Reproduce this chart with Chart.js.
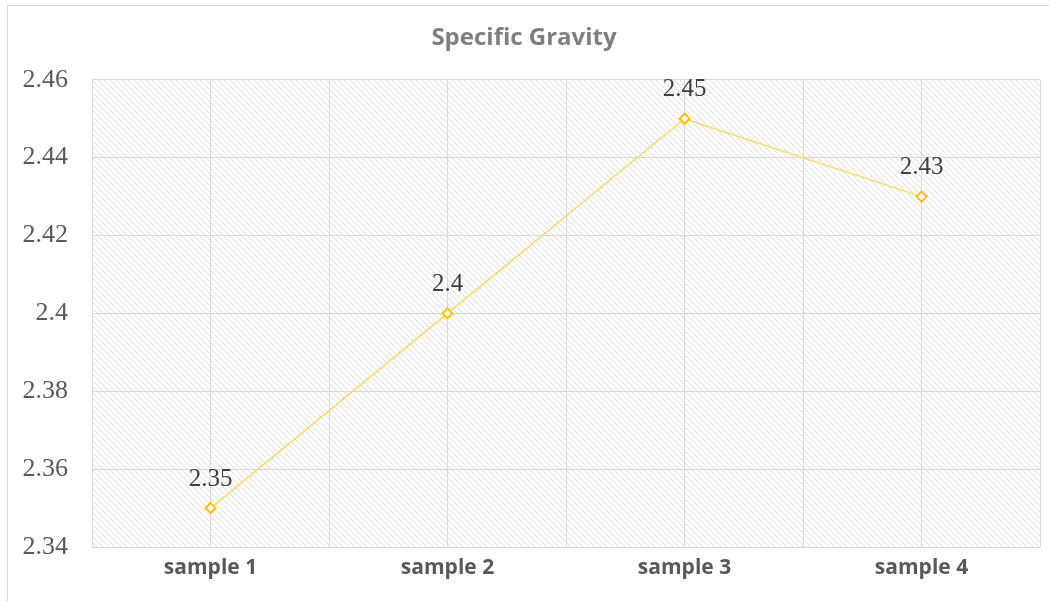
<!DOCTYPE html>
<html>
<head>
<meta charset="utf-8">
<script src="https://cdn.jsdelivr.net/npm/chart.js@4"></script>
<style>
  html, body { margin: 0; padding: 0; background: #fff; }
  #wrap { position: relative; width: 1049px; height: 601px; }
  #frame { position: absolute; left: 7px; top: 5px; right: -2px; bottom: -2px; border: 1px solid #d9d9d9; }
  canvas { position: absolute; left: 0; top: 0; }
</style>
</head>
<body>
<div id="wrap">
  <div id="frame"></div>
  <canvas id="chart" width="1049" height="601"></canvas>
</div>
<script>
const samples = ["sample 1", "sample 2", "sample 3", "sample 4"];
const gravity = [2.35, 2.4, 2.45, 2.43];
const yTicks = [2.34, 2.36, 2.38, 2.4, 2.42, 2.44, 2.46];

function hatch() {
  const c = document.createElement("canvas");
  c.width = 6;
  c.height = 6;
  const g = c.getContext("2d");
  g.strokeStyle = "#dedede";
  g.lineWidth = 1;
  g.beginPath();
  g.moveTo(-1, -1); g.lineTo(7, 7);
  g.moveTo(-1, 5); g.lineTo(1, 7);
  g.moveTo(5, -1); g.lineTo(7, 1);
  g.stroke();
  return g.createPattern(c, "repeat");
}

const plotBg = {
  id: "plotBg",
  beforeDraw(chart) {
    const { ctx, chartArea: a } = chart;
    ctx.save();
    ctx.fillStyle = hatch();
    ctx.fillRect(a.left, a.top, a.right - a.left, a.bottom - a.top);
    ctx.restore();
  },
};

const valueLabels = {
  id: "valueLabels",
  afterDatasetsDraw(chart) {
    const ctx = chart.ctx;
    ctx.save();
    ctx.font = "25px 'Liberation Serif', 'Times New Roman', serif";
    ctx.fillStyle = "#404040";
    ctx.textAlign = "center";
    ctx.textBaseline = "middle";
    chart.getDatasetMeta(0).data.forEach((pt, i) => {
      ctx.fillText(String(gravity[i]), pt.x, pt.y - 29);
    });
    ctx.restore();
  },
};

new Chart(document.getElementById("chart"), {
  type: "line",
  data: {
    labels: samples,
    datasets: [{
      data: gravity,
      borderColor: "#ffd966",
      borderWidth: 1.5,
      pointStyle: "rectRot",
      pointRadius: 5,
      pointBorderWidth: 2,
      pointBorderColor: "#ffc000",
      pointBackgroundColor: "#ffffff",
      tension: 0,
      clip: false,
    }],
  },
  options: {
    responsive: false,
    animation: false,
    layout: { padding: { left: 8, right: 9, top: 0, bottom: 0 } },
    plugins: {
      legend: { display: false },
      tooltip: { enabled: false },
      title: {
        display: true,
        text: "Specific Gravity",
        color: "#7f7f7f",
        font: { family: "'Open Sans', Lato, sans-serif", size: 24, weight: "bold" },
        padding: { top: 24, bottom: 27 },
      },
    },
    scales: {
      x: {
        type: "category",
        offset: true,
        grid: { display: false },
        border: { display: false },
        ticks: {
          color: "#595959",
          font: { family: "'Open Sans', Lato, sans-serif", size: 21, weight: "bold" },
          padding: 0,
        },
        afterFit(s) { s.height = 54; },
      },
      x2: {
        type: "linear",
        position: "bottom",
        min: 0,
        max: 4,
        display: true,
        ticks: { display: false, stepSize: 0.5 },
        grid: { color: "#d9d9d9", lineWidth: 1, drawTicks: false },
        border: { display: false },
        afterFit(s) { s.height = 0; },
      },
      y: {
        min: 2.34,
        max: 2.46,
        afterBuildTicks(s) { s.ticks = yTicks.map((v) => ({ value: v })); },
        grid: { color: "#d9d9d9", lineWidth: 1, drawTicks: false },
        border: { display: true, color: "#d9d9d9" },
        ticks: {
          color: "#595959",
          padding: 24,
          font: { family: "'Liberation Serif', 'Times New Roman', serif", size: 26 },
          callback: (v) => String(Math.round(v * 100) / 100),
        },
        afterFit(s) { s.width = 84; },
      },
    },
  },
  plugins: [plotBg, valueLabels],
});
</script>
</body>
</html>
